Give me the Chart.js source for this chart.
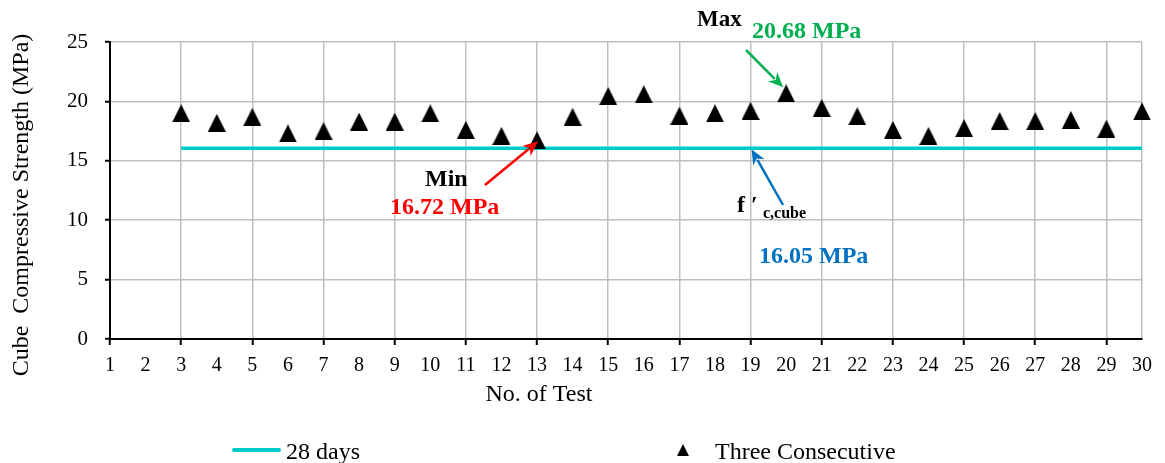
<!DOCTYPE html>
<html>
<head>
<meta charset="utf-8">
<title>Cube Compressive Strength</title>
<script src="https://cdn.jsdelivr.net/npm/chart.js@4.4.1/dist/chart.umd.min.js"></script>
<style>
  body { margin: 0; background: #fff; }
</style>
</head>
<body>
<canvas id="strengthChart" width="1165" height="463"></canvas>
<script>
// Data
const tests = [3, 4, 5, 6, 7, 8, 9, 10, 11, 12, 13, 14, 15, 16, 17, 18, 19, 20, 21, 22, 23, 24, 25, 26, 27, 28, 29, 30];
const threeConsecutive = [19.0, 18.2, 18.7, 17.3, 17.5, 18.3, 18.3, 19.0, 17.6, 17.1, 16.72, 18.7, 20.45, 20.6,
  18.8, 19.0, 19.2, 20.68, 19.45, 18.75, 17.6, 17.1, 17.75, 18.35, 18.35, 18.45, 17.7, 19.15];
const fcCube = 16.05;          // 28 days characteristic strength
const xRange = [1, 30];        // No. of Test axis
const yRange = [0, 25];        // MPa axis
const yStep = 5;

const FONT = '"Liberation Serif", "Times New Roman", serif';
const GRID = '#BFBFBF';
const CYAN = '#00CCCC';

// black triangle marker, centred on the value like the Excel marker
function makeTriangle(w, h) {
    const c = document.createElement('canvas');
    c.width = w;
    c.height = h;
    const g = c.getContext('2d');
    g.fillStyle = '#000';
    g.beginPath();
    g.moveTo(w / 2, 0);
    g.lineTo(w, h);
    g.lineTo(0, h);
    g.closePath();
    g.fill();
    return c;
}
const triangle = makeTriangle(18, 18);

function arrow(ctx, x1, y1, x2, y2, color) {
    const ang = Math.atan2(y2 - y1, x2 - x1);
    const len = 15, half = 6.5;
    ctx.save();
    ctx.strokeStyle = color;
    ctx.fillStyle = color;
    ctx.lineWidth = 2.5;
    ctx.beginPath();
    ctx.moveTo(x1, y1);
    ctx.lineTo(x2 - Math.cos(ang) * len * 0.8, y2 - Math.sin(ang) * len * 0.8);
    ctx.stroke();
    ctx.beginPath();
    ctx.moveTo(x2, y2);
    ctx.lineTo(x2 - Math.cos(ang) * len - Math.sin(ang) * half, y2 - Math.sin(ang) * len + Math.cos(ang) * half);
    ctx.lineTo(x2 - Math.cos(ang) * len * 0.7, y2 - Math.sin(ang) * len * 0.7);
    ctx.lineTo(x2 - Math.cos(ang) * len + Math.sin(ang) * half, y2 - Math.sin(ang) * len - Math.cos(ang) * half);
    ctx.closePath();
    ctx.fill();
    ctx.restore();
}

function text(ctx, str, x, y, font, color, align) {
    ctx.font = font;
    ctx.fillStyle = color;
    ctx.textAlign = align || 'left';
    ctx.textBaseline = 'alphabetic';
    ctx.fillText(str, x, y);
}

// axis titles, legend and the Max / Min / f'c annotations
const extras = {
    id: 'extras',
    afterDraw(chart) {
        const ctx = chart.ctx;
        const xs = chart.scales.x, ys = chart.scales.y;
        ctx.save();

        // axis titles
        ctx.save();
        ctx.translate(22, 205);
        ctx.rotate(-Math.PI / 2);
        ctx.font = '24px ' + FONT;
        ctx.fillStyle = '#000';
        ctx.textAlign = 'center';
        ctx.textBaseline = 'middle';
        ctx.fillText('Cube  Compressive Strength (MPa)', 0, 0);
        ctx.restore();
        text(ctx, 'No. of Test', 539, 401, '24px ' + FONT, '#000', 'center');

        // Max
        const iMax = threeConsecutive.indexOf(Math.max(...threeConsecutive));
        const mx = xs.getPixelForValue(tests[iMax]), my = ys.getPixelForValue(threeConsecutive[iMax]);
        text(ctx, 'Max', 697, 26, 'bold 23px ' + FONT, '#000');
        text(ctx, threeConsecutive[iMax].toFixed(2) + ' MPa', 752, 38, 'bold 24px ' + FONT, '#00B050');
        arrow(ctx, 746, 50, mx - 3, my - 6, '#00B050');

        // Min
        const iMin = threeConsecutive.indexOf(Math.min(...threeConsecutive));
        const nx = xs.getPixelForValue(tests[iMin]), ny = ys.getPixelForValue(threeConsecutive[iMin]);
        text(ctx, 'Min', 425, 186, 'bold 24px ' + FONT, '#000');
        text(ctx, threeConsecutive[iMin].toFixed(2) + ' MPa', 390, 214, 'bold 24px ' + FONT, '#FF0000');
        arrow(ctx, 485, 185, nx + 1, ny + 1, '#FF0000');

        // f'c,cube
        const fx = xs.getPixelForValue(19), fy = ys.getPixelForValue(fcCube);
        arrow(ctx, 783, 205, fx + 1, fy + 1, '#0070C0');
        text(ctx, 'f \u2032', 737, 212, 'bold 24px ' + FONT, '#000');
        text(ctx, 'c,cube', 763, 218, 'bold 16px ' + FONT, '#000');
        text(ctx, fcCube.toFixed(2) + ' MPa', 759, 263, 'bold 24px ' + FONT, '#0070C0');

        // legend
        ctx.strokeStyle = CYAN;
        ctx.lineWidth = 4;
        ctx.lineCap = 'round';
        ctx.beginPath();
        ctx.moveTo(234, 450);
        ctx.lineTo(279, 450);
        ctx.stroke();
        text(ctx, chart.data.datasets[1].label, 286, 459, '24px ' + FONT, '#000');
        ctx.fillStyle = '#000';
        ctx.beginPath();
        ctx.moveTo(683, 444);
        ctx.lineTo(689, 456);
        ctx.lineTo(677, 456);
        ctx.closePath();
        ctx.fill();
        text(ctx, chart.data.datasets[0].label, 715, 459, '24px ' + FONT, '#000');

        ctx.restore();
    }
};

const ctx = document.getElementById('strengthChart').getContext('2d');
const strengthChart = new Chart(ctx, {
    type: 'scatter',
    data: {
        datasets: [{
            label: 'Three Consecutive',
            data: tests.map((t, i) => ({ x: t, y: threeConsecutive[i] })),
            pointStyle: triangle,
            pointRadius: 9,
            showLine: false,
            clip: false
        }, {
            label: '28 days',
            data: [{ x: tests[0], y: fcCube }, { x: tests[tests.length - 1], y: fcCube }],
            showLine: true,
            borderColor: CYAN,
            borderWidth: 3.5,
            pointRadius: 0
        }]
    },
    options: {
        responsive: false,
        animation: false,
        events: [],
        layout: {
            padding: { left: 0, right: 23, top: 42, bottom: 84 }
        },
        scales: {
            x: {
                type: 'linear',
                min: xRange[0],
                max: xRange[1],
                afterFit: s => { s.height = 40; },
                ticks: {
                    stepSize: 1,
                    autoSkip: false,
                    maxRotation: 0,
                    padding: 9,
                    color: '#000',
                    font: { family: FONT, size: 20 }
                },
                grid: {
                    color: c => (c.tick.value % 2 === 1 || c.tick.value === xRange[1]) ? GRID : 'rgba(0,0,0,0)',
                    tickColor: c => (c.tick.value % 2 === 1) ? '#000' : 'rgba(0,0,0,0)',
                    tickLength: 6,
                    tickWidth: 2,
                    lineWidth: 1.5
                },
                border: { color: '#000', width: 2 }
            },
            y: {
                min: yRange[0],
                max: yRange[1],
                afterFit: s => { s.width = 110; },
                ticks: {
                    stepSize: yStep,
                    padding: 17,
                    color: '#000',
                    font: { family: FONT, size: 21 }
                },
                grid: {
                    color: GRID,
                    tickColor: '#000',
                    tickLength: 5,
                    tickWidth: 2,
                    lineWidth: 1.5
                },
                border: { color: '#000', width: 2 }
            }
        },
        plugins: {
            legend: { display: false },
            tooltip: { enabled: false }
        }
    },
    plugins: [extras]
});
</script>
</body>
</html>
